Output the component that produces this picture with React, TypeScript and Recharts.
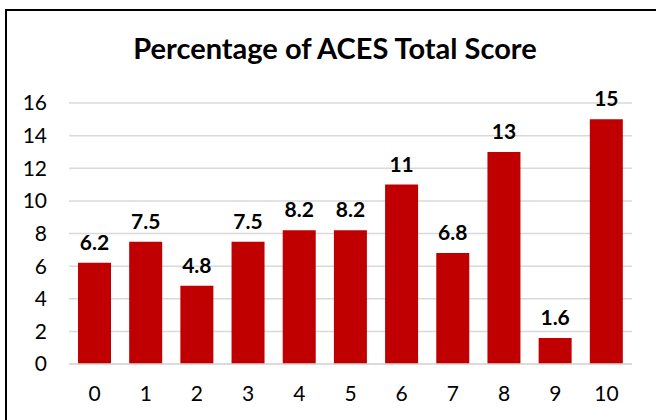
import { BarChart, Bar, XAxis, YAxis, CartesianGrid, LabelList } from 'recharts'

const scores = ['0', '1', '2', '3', '4', '5', '6', '7', '8', '9', '10']
const percentages = [6.2, 7.5, 4.8, 7.5, 8.2, 8.2, 11, 6.8, 13, 1.6, 15]
const yTicks = [0, 2, 4, 6, 8, 10, 12, 14, 16]

const data = scores.map((score, i) => ({ score, pct: percentages[i] }))

const FONT = 'Lato, "DejaVu Sans", sans-serif'

export default function App() {
  return (
    <div style={{ position: 'absolute', left: 0, top: 0, width: 656, height: 420, background: '#fff', overflow: 'hidden', fontFamily: FONT }}>
      {/* frame: only left and top edges visible in the crop */}
      <div
        style={{
          position: 'absolute',
          left: 5,
          top: 9,
          width: 700,
          height: 500,
          borderLeft: '2px solid #000',
          borderTop: '2px solid #000',
        }}
      />
      <div
        style={{
          position: 'absolute',
          left: 0,
          top: 31,
          width: 670,
          textAlign: 'center',
          fontSize: 29,
          lineHeight: '34px',
          fontWeight: 700,
          color: '#000',
        }}
      >
        Percentage of ACES Total Score
      </div>
      <div style={{ position: 'absolute', left: 0, top: 0 }}>
        <BarChart
          width={656}
          height={420}
          data={data}
          margin={{ top: 103, right: 24, left: 0, bottom: 16 }}
          barSize={33}
        >
          <CartesianGrid vertical={false} stroke="#d9d9d9" strokeWidth={1.5} />
          <XAxis
            dataKey="score"
            axisLine={{ stroke: '#d9d9d9', strokeWidth: 1.5 }}
            tickLine={false}
            tickSize={0}
            tickMargin={22}
            height={40}
            tick={{ fontSize: 21, fill: '#000', fontFamily: FONT }}
          />
          <YAxis
            domain={[0, 16]}
            ticks={yTicks}
            axisLine={false}
            tickLine={false}
            tickSize={0}
            tickMargin={22}
            width={69}
            interval={0}
            tick={{ fontSize: 21, fill: '#000', fontFamily: FONT }}
          />
          <Bar dataKey="pct" fill="#c00000" isAnimationActive={false}>
            <LabelList
              dataKey="pct"
              position="top"
              offset={13}
              style={{ fontSize: 21, fontWeight: 700, fill: '#000', fontFamily: FONT }}
            />
          </Bar>
        </BarChart>
      </div>
    </div>
  )
}
